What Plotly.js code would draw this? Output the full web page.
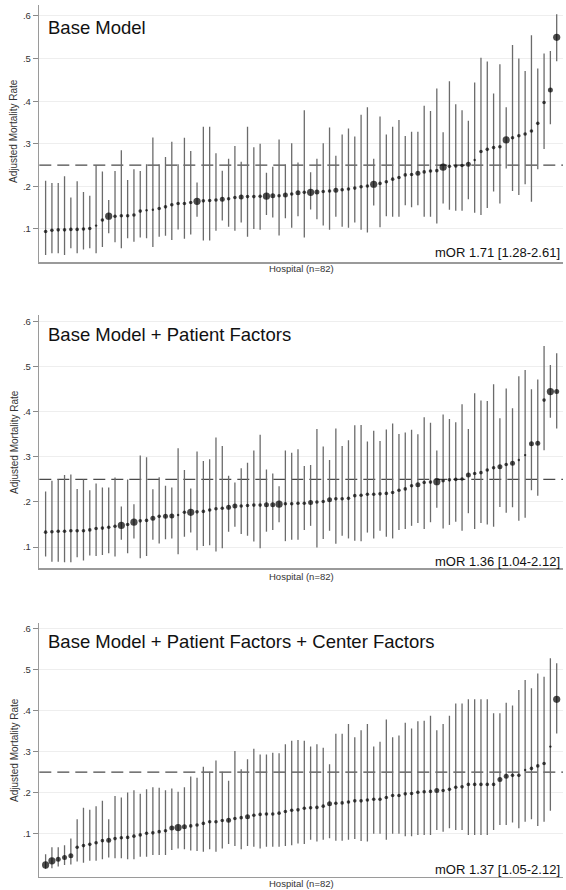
<!DOCTYPE html>
<html><head><meta charset="utf-8">
<script src="https://cdn.plot.ly/plotly-3.0.1.min.js"></script>
<style>html,body{margin:0;padding:0;background:#fff}#chart{width:566px;height:890px}</style>
</head><body><div id="chart"></div>
<script>
// ---------- DATA ----------
const panelTitles = ["Base Model", "Base Model + Patient Factors", "Base Model + Patient Factors + Center Factors"];
const panelMOR = ["mOR 1.71 [1.28-2.61]", "mOR 1.36 [1.04-2.12]", "mOR 1.37 [1.05-2.12]"];
const xAxisTitle = "Hospital (n=82)";
const yAxisTitle = "Adjusted Mortality Rate";
const yTickVals = [0.1, 0.2, 0.3, 0.4, 0.5, 0.6];
const yTickText = [".1", ".2", ".3", ".4", ".5", ".6"];
const referenceRate = 0.25;

// Panel 1: Base Model
const baseEst = [.094,.097,.098,.098,.099,.099,.100,.101,.108,.121,.130,.130,.131,.131,.133,.142,.144,.145,.148,.152,.157,.160,.160,.162,.165,.166,.167,.168,.170,.171,.174,.175,.176,.176,.177,.177,.178,.178,.180,.182,.185,.186,.186,.187,.188,.189,.191,.192,.194,.196,.199,.201,.205,.207,.211,.217,.221,.227,.228,.231,.234,.236,.237,.245,.247,.248,.249,.252,.262,.282,.287,.291,.293,.309,.314,.319,.323,.330,.348,.397,.426,.550];
const baseHi = [.213,.208,.208,.224,.174,.212,.187,.178,.250,.235,.168,.236,.285,.215,.240,.236,.252,.315,.252,.269,.305,.252,.314,.283,.209,.340,.340,.278,.237,.265,.295,.258,.340,.292,.300,.232,.246,.310,.252,.301,.256,.379,.233,.265,.301,.338,.272,.322,.336,.317,.368,.386,.265,.364,.322,.340,.356,.318,.328,.328,.389,.377,.430,.327,.447,.393,.379,.354,.444,.502,.493,.418,.487,.386,.532,.500,.471,.555,.477,.512,.518,.604];
const baseLo = [.039,.043,.043,.039,.055,.043,.052,.055,.043,.058,.090,.069,.055,.078,.070,.080,.078,.058,.082,.084,.074,.099,.077,.087,.129,.073,.073,.096,.120,.105,.096,.115,.082,.100,.098,.133,.127,.085,.125,.103,.130,.080,.146,.123,.108,.098,.129,.105,.103,.115,.098,.092,.155,.104,.130,.129,.129,.156,.151,.156,.129,.129,.113,.160,.145,.143,.143,.170,.138,.133,.149,.188,.160,.242,.189,.180,.205,.164,.240,.288,.346,.494];
const baseVolume = [1,1,1,1,1,1,1,1,0,1,3,1,1,1,1,1,0,0,1,1,1,1,1,1,3,1,1,1,2,1,1,2,1,1,1,3,2,1,2,1,2,1,3,2,1,1,2,1,1,1,1,1,3,1,1,1,1,1,1,2,1,1,1,3,1,1,1,2,0,1,1,1,1,3,1,1,1,1,1,1,2,3];

// Panel 2: Base Model + Patient Factors
const patEst = [.133,.134,.135,.135,.136,.136,.136,.138,.141,.142,.144,.146,.148,.150,.155,.158,.159,.164,.168,.168,.169,.171,.177,.177,.178,.179,.182,.185,.186,.188,.191,.191,.192,.193,.193,.194,.194,.195,.196,.196,.197,.197,.199,.200,.201,.205,.207,.207,.208,.214,.215,.217,.217,.218,.219,.221,.226,.229,.236,.238,.243,.244,.245,.247,.249,.250,.251,.260,.263,.265,.271,.276,.278,.283,.286,.293,.304,.329,.330,.426,.445,.445];
const patHi = [.223,.247,.250,.260,.261,.229,.250,.226,.241,.232,.232,.254,.190,.250,.195,.303,.299,.228,.255,.236,.232,.319,.271,.230,.312,.291,.295,.343,.324,.258,.243,.275,.287,.314,.349,.272,.263,.235,.314,.309,.317,.280,.282,.362,.323,.293,.363,.324,.337,.370,.371,.334,.358,.335,.361,.374,.351,.354,.360,.350,.388,.376,.314,.394,.384,.377,.417,.362,.441,.425,.424,.461,.386,.452,.408,.479,.493,.450,.472,.546,.504,.530];
const patLo = [.079,.067,.067,.066,.066,.077,.070,.081,.080,.082,.086,.079,.116,.086,.119,.075,.080,.116,.108,.117,.119,.084,.123,.132,.093,.102,.104,.090,.097,.134,.145,.129,.125,.112,.097,.134,.138,.155,.113,.116,.116,.138,.147,.099,.118,.136,.107,.125,.119,.114,.113,.132,.119,.136,.123,.119,.138,.140,.147,.153,.140,.155,.187,.141,.149,.156,.136,.175,.140,.153,.150,.145,.189,.176,.188,.158,.165,.226,.214,.315,.387,.363];
const patVolume = [1,1,1,1,1,1,1,1,1,1,1,1,3,1,3,1,1,2,1,2,2,0,1,3,1,1,1,1,1,2,2,1,1,1,1,2,2,3,1,1,1,1,2,1,1,2,1,1,1,1,1,1,1,1,1,1,1,1,1,2,1,1,3,1,1,1,1,2,1,1,1,1,2,1,2,0,0,2,2,1,3,2];

// Panel 3: Base Model + Patient Factors + Center Factors
const ctrEst = [.024,.034,.038,.042,.046,.067,.071,.074,.078,.083,.084,.088,.090,.091,.094,.097,.101,.102,.105,.107,.114,.115,.117,.119,.121,.125,.129,.129,.132,.133,.137,.139,.141,.145,.147,.148,.148,.150,.154,.157,.158,.162,.163,.164,.167,.173,.174,.175,.177,.180,.180,.182,.184,.184,.188,.193,.193,.197,.198,.201,.202,.203,.205,.205,.208,.213,.214,.220,.220,.220,.220,.220,.232,.240,.242,.242,.255,.259,.265,.271,.312,.427];
const ctrHi = [.050,.067,.067,.072,.088,.135,.163,.158,.167,.180,.135,.192,.188,.200,.206,.197,.208,.213,.212,.206,.210,.202,.213,.239,.236,.263,.251,.278,.251,.229,.301,.257,.281,.307,.293,.293,.297,.296,.318,.326,.328,.326,.312,.318,.309,.269,.343,.343,.367,.335,.352,.367,.312,.324,.378,.335,.339,.370,.356,.374,.375,.387,.352,.367,.387,.417,.417,.427,.427,.427,.427,.393,.393,.419,.412,.450,.474,.454,.490,.482,.527,.515];
const ctrLo = [.014,.016,.020,.024,.025,.032,.029,.034,.034,.038,.042,.040,.040,.038,.038,.044,.044,.048,.048,.048,.060,.064,.062,.059,.058,.056,.062,.056,.064,.075,.070,.062,.070,.068,.064,.068,.068,.068,.070,.072,.076,.075,.085,.081,.085,.089,.083,.083,.085,.087,.082,.081,.100,.100,.085,.100,.100,.094,.094,.097,.097,.097,.109,.105,.113,.109,.109,.097,.097,.097,.097,.109,.121,.121,.127,.113,.129,.135,.119,.129,.156,.344];
const ctrVolume = [3,3,2,2,2,1,1,1,1,1,2,1,1,1,1,1,1,1,1,1,2,3,2,1,1,1,1,1,1,2,1,1,2,1,1,1,1,1,1,1,1,1,1,1,1,2,1,1,1,1,1,1,1,1,1,1,1,1,1,1,1,1,2,1,1,1,1,1,1,1,1,1,2,2,1,1,0,1,1,1,0,3];

// ---------- DRAW ----------
const W = 566, H = 890;
const sizeForVolume = [2.4, 3.6, 5.0, 7.2];
const panels = [
  {est: baseEst, hi: baseHi, lo: baseLo, vol: baseVolume, top: 5, bottom: 262, range: [0.0225, 0.6258], titleY: 27.5, morY: 252, yTitleY: 131, xTitleY: 268.5},
  {est: patEst, hi: patHi, lo: patLo, vol: patVolume, top: 315, bottom: 568, range: [0.0534, 0.6149], titleY: 335, morY: 561, yTitleY: 442, xTitleY: 576.5},
  {est: ctrEst, hi: ctrHi, lo: ctrLo, vol: ctrVolume, top: 623, bottom: 876.7, range: [-0.0047, 0.6129], titleY: 641.5, morY: 869.5, yTitleY: 750, xTitleY: 883.5}
];
const xDomain = [39.3 / W, 563 / W];
const font = "Liberation Sans, Arial, Helvetica, sans-serif";

const traces = [], shapes = [], annotations = [];
const layout = {
  width: W, height: H, margin: {l: 0, r: 0, t: 0, b: 0, pad: 0},
  paper_bgcolor: "#fff", plot_bgcolor: "#fff", showlegend: false,
  font: {family: font, color: "#222"}
};

panels.forEach((p, k) => {
  const sfx = k === 0 ? "" : String(k + 1);
  const hosp = p.est.map((_, i) => i + 1);
  // confidence intervals (drawn first, underneath)
  traces.push({
    type: "scatter", mode: "markers",
    x: hosp, y: p.est,
    xaxis: "x" + sfx, yaxis: "y" + sfx,
    marker: {color: "#000", size: 2, opacity: 0},
    error_y: {type: "data", symmetric: false,
      array: p.hi.map((h, i) => h - p.est[i]),
      arrayminus: p.lo.map((l, i) => p.est[i] - l),
      color: "#6b6b6b", thickness: 1.3, width: 0},
    hoverinfo: "skip"
  });
  // point estimates on top
  traces.push({
    type: "scatter", mode: "markers",
    x: hosp, y: p.est,
    xaxis: "x" + sfx, yaxis: "y" + sfx,
    marker: {color: "#000", size: p.vol.map(v => sizeForVolume[v]), line: {width: 0}},
    hoverinfo: "skip"
  });
  layout["xaxis" + sfx] = {
    domain: xDomain, range: [0, 83], anchor: "y" + sfx,
    showline: true, linecolor: "#9a9a9a", linewidth: 1.5,
    showticklabels: false, ticks: "", showgrid: false, zeroline: false, fixedrange: true
  };
  layout["yaxis" + sfx] = {
    domain: [1 - p.bottom / H, 1 - p.top / H], range: p.range, anchor: "x" + sfx,
    tickvals: yTickVals, ticktext: yTickText,
    ticks: "outside", ticklen: 5, tickwidth: 1, tickcolor: "#8a8a8a",
    tickfont: {size: 9.5, color: "#333", family: font},
    showline: true, linecolor: "#9a9a9a", linewidth: 1.5,
    showgrid: true, gridcolor: "#eeeeee", gridwidth: 1, zeroline: false, fixedrange: true
  };
  shapes.push({
    type: "line", layer: "below",
    xref: "x" + sfx + " domain", x0: 0, x1: 1,
    yref: "y" + sfx, y0: referenceRate, y1: referenceRate,
    line: {color: "#4a4a4a", width: 1.2, dash: "12px,6px"}
  });
  annotations.push({
    text: panelTitles[k], xref: "paper", yref: "paper",
    x: 46 / W, y: 1 - p.titleY / H, xanchor: "left", yanchor: "middle",
    showarrow: false, font: {size: 18.5, color: "#111", family: font}
  });
  annotations.push({
    text: panelMOR[k], xref: "paper", yref: "paper",
    x: 562 / W, y: 1 - p.morY / H, xanchor: "right", yanchor: "middle",
    showarrow: false, font: {size: 13, color: "#111", family: font}
  });
  annotations.push({
    text: yAxisTitle, xref: "paper", yref: "paper", textangle: -90,
    x: 14 / W, y: 1 - p.yTitleY / H, xanchor: "center", yanchor: "middle",
    showarrow: false, font: {size: 10, color: "#333", family: font}
  });
  annotations.push({
    text: xAxisTitle, xref: "paper", yref: "paper",
    x: 301 / W, y: 1 - p.xTitleY / H, xanchor: "center", yanchor: "middle",
    showarrow: false, font: {size: 9.5, color: "#333", family: font}
  });
});
layout.shapes = shapes;
layout.annotations = annotations;

Plotly.newPlot("chart", traces, layout, {displayModeBar: false, staticPlot: true});
</script>
</body></html>
